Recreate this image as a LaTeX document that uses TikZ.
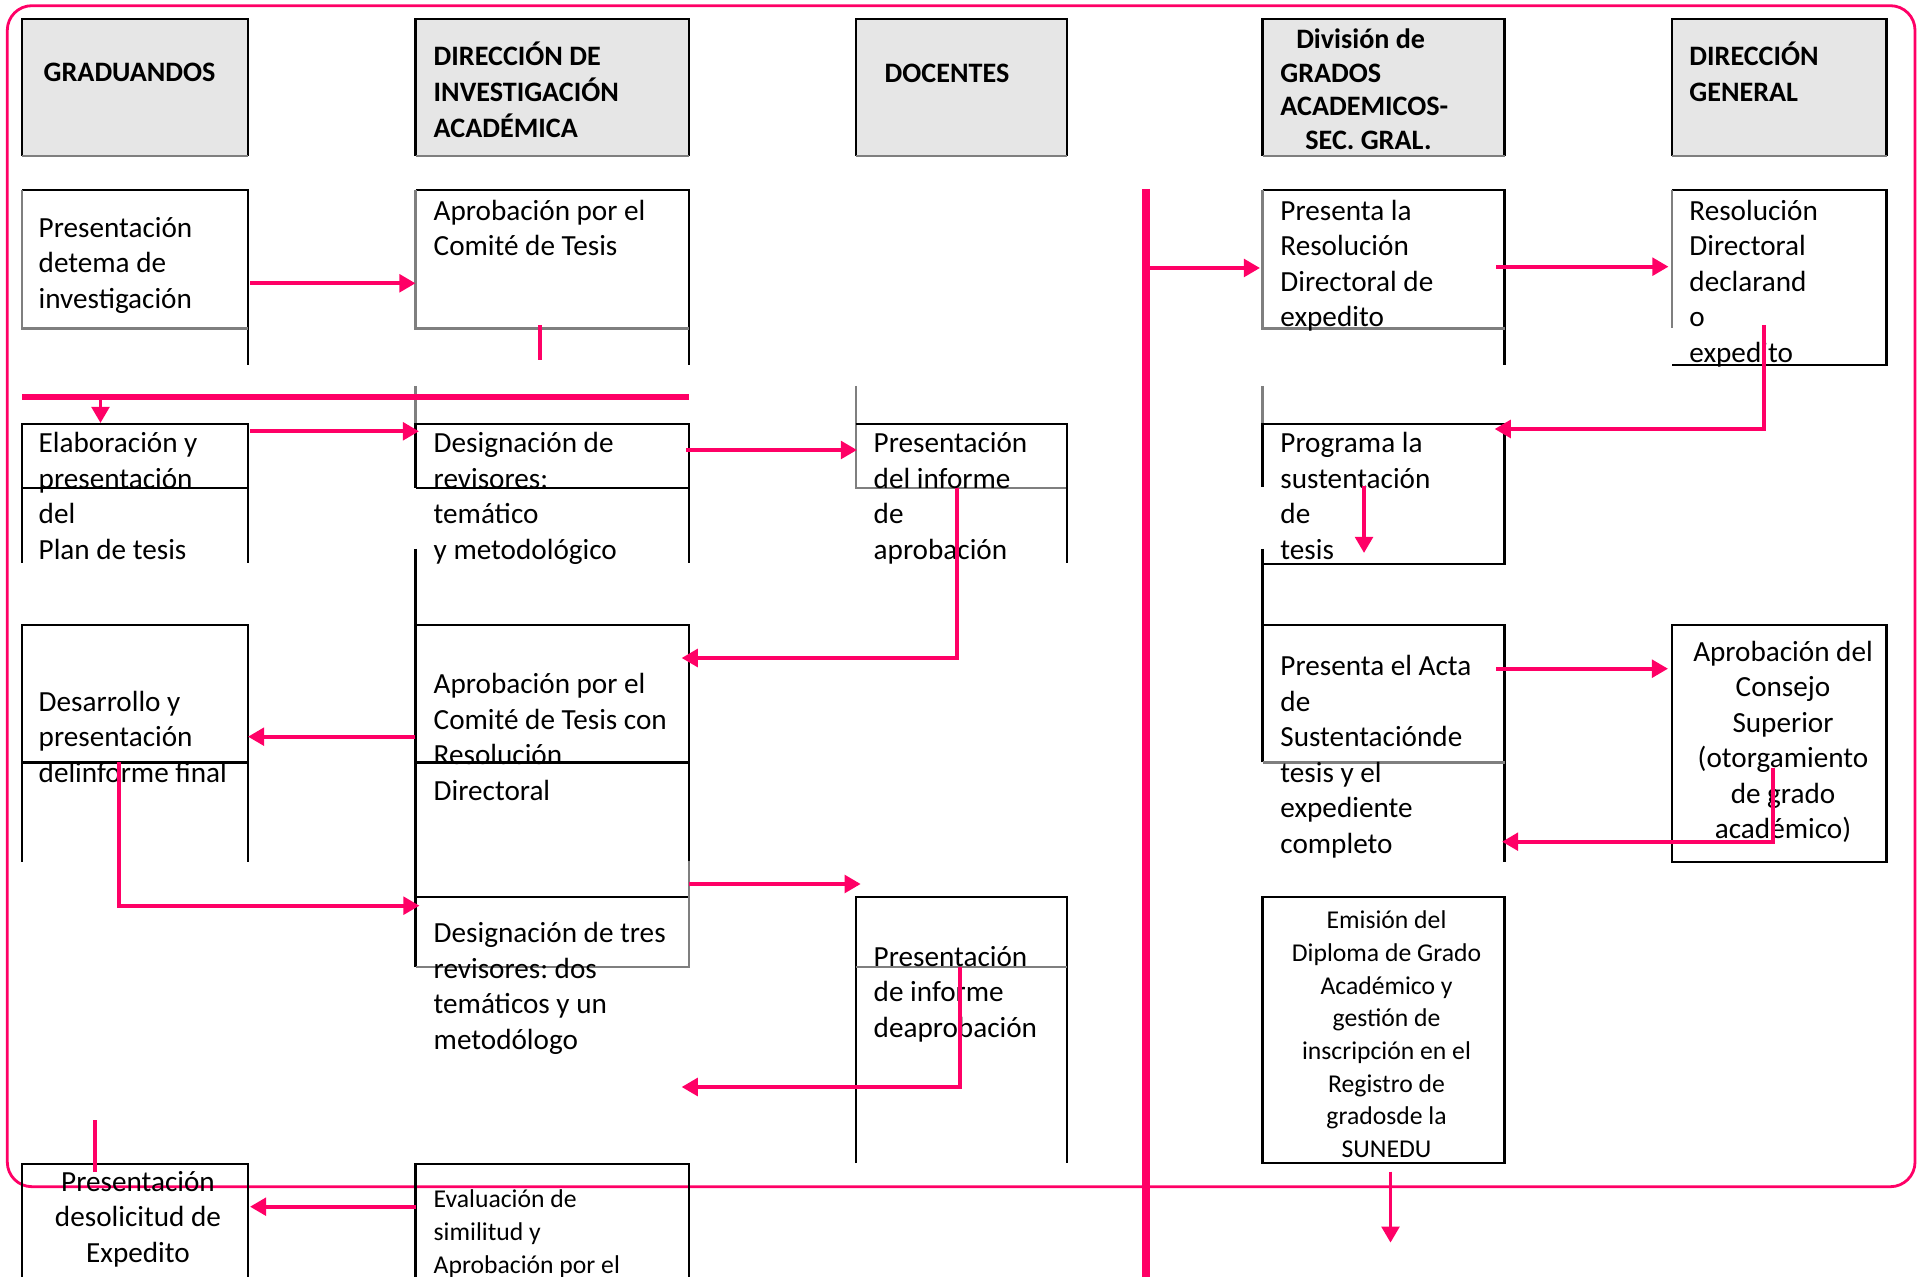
\documentclass[tikz,border=0pt]{standalone}
\usepackage{fontspec}
\setmainfont{Carlito}
\usetikzlibrary{arrows.meta}
\definecolor{rosa}{HTML}{FF0066}
\definecolor{fondo}{HTML}{E6E6E6}
\definecolor{borde}{HTML}{7F7F7F}
\frenchspacing

\begin{document}
\begin{tikzpicture}[x=0.01cm,y=-0.01cm,
    negro/.style={draw=black, line width=0.6pt},
    gris/.style={draw=borde, line width=0.6pt},
    titulo/.style={font=\bfseries\fontsize{8}{10.3}\selectfont, inner sep=0pt, align=left},
    texto/.style={font=\fontsize{8.3}{10.1}\selectfont, inner sep=0pt, align=left, anchor=north west},
    menudo/.style={font=\fontsize{7.3}{9.3}\selectfont, inner sep=0pt, align=center, anchor=north},
    flecha/.style={rosa, line width=1.1pt, -{Triangle[length=4.6pt,width=5pt]}},
    enlace/.style={rosa, line width=1.1pt}]
   \useasboundingbox (0,0) rectangle (1922,1277);

   % marco rosa
   \draw[rosa, line width=0.8pt, rounded corners=7pt] (7.3,5.7) rectangle (1915,1186.7);

   % cabeceras
   \foreach \xa/\xb in {22/247.6, 415.5/689, 855.6/1066.7, 1262.5/1504.5, 1671.6/1886.5}{
     \fill[fondo] (\xa,19) rectangle (\xb,155.7);
     \draw[negro] (\xa,155.7) -- (\xa,19) -- (\xb,19) -- (\xb,155.7);
     \draw[gris] (\xa,155.7) -- (\xb,155.7);
   }
   \node[titulo, anchor=west] (graduandos) at (43,72.5) {GRADUANDOS};
   \node[titulo, anchor=north west] (dia) at (433,39) {\strut DIRECCIÓN DE\\INVESTIGACIÓN\\ACADÉMICA};
   \node[titulo, anchor=west] (docentes) at (884,73.5) {DOCENTES};
   \node[titulo, anchor=north west, font=\bfseries\fontsize{8}{9.6}\selectfont] (dga) at (1279.7,24)
     {\strut\hspace*{4.5pt}División de\\GRADOS\\ACADEMICOS-\\\hspace*{7.1pt}SEC. GRAL.};
   \node[titulo, anchor=north west] (dg) at (1688.7,39) {\strut DIRECCIÓN\\GENERAL};

   % cajas, fila 1
   \foreach \xa/\xb in {22/247.6, 415.5/689, 1262.5/1504.5}{
     \draw[negro] (\xa,190) -- (\xb,190) -- (\xb,365);
     \draw[gris] (\xa,190) -- (\xa,328.5) -- (\xb,328.5);
   }
   \draw[negro] (1671.6,190) -- (1886.5,190) -- (1886.5,365.3) -- (1671.6,365.3);
   \draw[gris] (1671.6,190) -- (1671.6,328.5);

   % fila 2
   \draw[negro] (22,563) -- (22,424) -- (247.6,424) -- (247.6,563) (22,488) -- (247.6,488);
   \draw[gris] (415.5,386) -- (415.5,424);
   \draw[negro] (415.5,488) -- (415.5,424) -- (689,424) -- (689,563) (415.5,488) -- (689,488) (415.5,549) -- (415.5,625);
   \draw[gris] (855.6,386) -- (855.6,488) -- (1066.7,488);
   \draw[negro] (855.6,424) -- (1066.7,424) -- (1066.7,563);
   \draw[gris] (1262.5,386) -- (1262.5,424);
   \draw[negro] (1262.5,486.7) -- (1262.5,424) -- (1504.5,424) -- (1504.5,564) -- (1262.5,564) (1262.5,549) -- (1262.5,625);

   % fila 3
   \draw[negro] (22,861.7) -- (22,625) -- (247.6,625) -- (247.6,861.7) (22,762.5) -- (247.6,762.5);
   \draw[negro] (415.5,967) -- (415.5,625) -- (689,625) -- (689,860.7) (415.5,762.5) -- (689,762.5) (415.5,896.7) -- (689,896.7);
   \draw[gris] (689,860.7) -- (689,967) -- (415.5,967);
   \draw[negro] (1262.5,762.5) -- (1262.5,625) -- (1504.5,625) -- (1504.5,861.7);
   \draw[gris] (1262.5,762.5) -- (1504.5,762.5);
   \draw[negro] (1671.6,625) rectangle (1886.5,861.7);

   % fila 4
   \draw[negro] (855.6,1163) -- (855.6,896.7) -- (1066.7,896.7) -- (1066.7,1163);
   \draw[gris] (855.6,966.7) -- (1066.7,966.7);
   \draw[negro] (1262.5,896.7) rectangle (1504.5,1163);

   % fila 5
   \draw[negro] (22,1277) -- (22,1164) -- (247.6,1164) -- (247.6,1277);
   \draw[negro] (415.5,1277) -- (415.5,1164) -- (689,1164) -- (689,1277);

   % textos
   \node[texto] (tema) at (38,211.5) {\strut Presentación\\detema de\\investigación};
   \node[texto] (comite) at (433,194.5) {\strut Aprobación por el\\Comité de Tesis};
   \node[texto] (presres) at (1279.7,194.5) {\strut Presenta la\\Resolución\\Directoral de\\expedito};
   \node[texto] (resdir) at (1688.7,194.5) {\strut Resolución\\Directoral\\declarand\\o\\expedito};
   \node[texto] (plan) at (38,427) {\strut Elaboración y\\presentación\\del\\Plan de tesis};
   \node[texto] (revisores) at (433,427) {\strut Designación de\\revisores:\\temático\\y metodológico};
   \node[texto] (informe) at (873,427) {\strut Presentación\\del informe\\de\\aprobación};
   \node[texto] (programa) at (1279.7,427) {\strut Programa la\\sustentación\\de\\tesis};
   \node[texto] (final) at (38,685.7) {\strut Desarrollo y\\presentación\\delinforme final};
   \node[texto] (resolucion) at (433,668) {\strut Aprobación por el\\Comité de Tesis con\\Resolución\\Directoral};
   \node[texto] (acta) at (1279.7,650) {\strut Presenta el Acta\\de\\Sustentaciónde\\tesis y el\\expediente\\completo};
   \node[texto, anchor=north, align=center] (consejo) at (1783,635.7)
     {\strut Aprobación del\\Consejo\\Superior\\(otorgamiento\\de grado\\académico)};
   \node[texto] (tres) at (433,917) {\strut Designación de tres\\revisores: dos\\temáticos y un\\metodólogo};
   \node[texto] (informe2) at (873,940.7) {\strut Presentación\\de informe\\deaprobación};
   \node[menudo] (diploma) at (1386.5,905)
     {\strut Emisión del\\Diploma de Grado\\Académico y\\gestión de\\inscripción en el\\Registro de\\gradosde la\\SUNEDU};
   \node[texto, anchor=north, align=center] (solicitud) at (138,1165.7) {\strut Presentación\\desolicitud de\\Expedito};
   \node[menudo, anchor=north west, align=left] (similitud) at (433,1184) {\strut Evaluación de\\similitud y\\Aprobación por el};

   % puntos de las flechas
   \coordinate (t1a) at (250,283.3);   \coordinate (t1b) at (415.5,283.3);
   \coordinate (c1a) at (540,325);     \coordinate (c1b) at (540,360);
   \coordinate (barA) at (22,397);     \coordinate (barB) at (689,397);
   \coordinate (d1a) at (100.5,399);   \coordinate (d1b) at (100.5,423);
   \coordinate (t2a) at (250,431.3);   \coordinate (t2b) at (419,431.3);
   \coordinate (t3a) at (686,450);     \coordinate (t3b) at (857,450);
   \coordinate (t4a) at (956.7,488);   \coordinate (t4c) at (956.7,658);   \coordinate (t4b) at (681.6,658);
   \coordinate (t5a) at (415,736.7);   \coordinate (t5b) at (248,736.7);
   \coordinate (t6a) at (119.4,762.5); \coordinate (t6c) at (119.4,905.7); \coordinate (t6b) at (419.5,905.7);
   \coordinate (t7a) at (689,884);     \coordinate (t7b) at (860.7,884);
   \coordinate (t8a) at (960,967);     \coordinate (t8c) at (960,1087);    \coordinate (t8b) at (681.6,1087);
   \coordinate (t9a) at (95,1120);     \coordinate (t9b) at (95,1171.7);
   \coordinate (t10a) at (415.5,1206.7); \coordinate (t10b) at (250,1206.7);
   \coordinate (ejeA) at (1146,189);   \coordinate (ejeB) at (1146,1277);
   \coordinate (r1a) at (1150,268);    \coordinate (r1b) at (1260,268);
   \coordinate (r2a) at (1496,266.7);  \coordinate (r2b) at (1668.5,266.7);
   \coordinate (r3a) at (1764,325);    \coordinate (r3c) at (1764,429);    \coordinate (r3b) at (1494.6,429);
   \coordinate (r4a) at (1364,486);    \coordinate (r4b) at (1364,553);
   \coordinate (r5a) at (1496,668.7);  \coordinate (r5b) at (1668,668.7);
   \coordinate (r6a) at (1772.6,768);  \coordinate (r6c) at (1772.6,841.7); \coordinate (r6b) at (1502,841.7);
   \coordinate (r7a) at (1390.5,1171.7); \coordinate (r7b) at (1390.5,1242.7);

   % conectores
   \draw[rosa, line width=1.6pt] (barA) -- (barB);
   \draw[rosa, line width=2.4pt] (ejeA) -- (ejeB);
   \draw[enlace] (c1a) -- (c1b);
   \draw[enlace] (t9a) -- (t9b);
   \draw[flecha] (t1a) -- (t1b);
   \draw[flecha] (d1a) -- (d1b);
   \draw[flecha] (t2a) -- (t2b);
   \draw[flecha] (t3a) -- (t3b);
   \draw[flecha] (t4a) -- (t4c) -- (t4b);
   \draw[flecha] (t5a) -- (t5b);
   \draw[flecha] (t6a) -- (t6c) -- (t6b);
   \draw[flecha] (t7a) -- (t7b);
   \draw[flecha] (t8a) -- (t8c) -- (t8b);
   \draw[flecha] (t10a) -- (t10b);
   \draw[flecha] (r1a) -- (r1b);
   \draw[flecha] (r2a) -- (r2b);
   \draw[flecha] (r3a) -- (r3c) -- (r3b);
   \draw[flecha] (r4a) -- (r4b);
   \draw[flecha] (r5a) -- (r5b);
   \draw[flecha] (r6a) -- (r6c) -- (r6b);
   \draw[flecha] (r7a) -- (r7b);
 \end{tikzpicture}
\end{document}
